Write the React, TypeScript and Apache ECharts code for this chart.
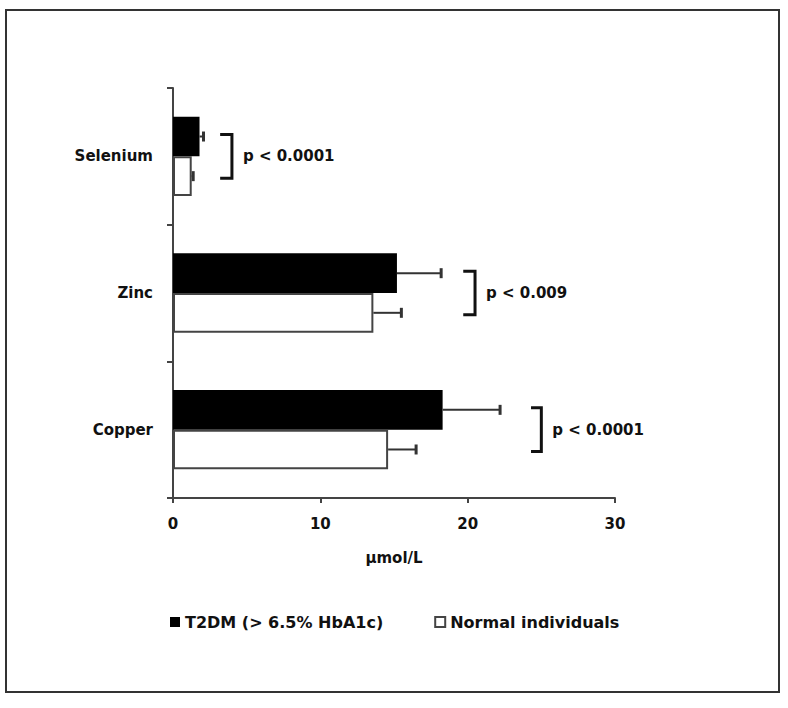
import React, { useEffect, useRef } from "react";
import * as echarts from "echarts";

const categories = ["Copper", "Zinc", "Selenium"];
const t2dmValues = [18.3, 15.2, 1.8];
const t2dmErrors = [3.9, 3.0, 0.27];
const normalValues = [14.6, 13.6, 1.27];
const normalErrors = [1.9, 1.9, 0.1];
const pLabels = ["p < 0.0001", "p < 0.009", "p < 0.0001"];
const bracketStart = [24.3, 19.7, 3.2];
const bracketEnd = [25.0, 20.5, 4.0];
const xTicks = [0, 10, 20, 30];
const seriesNames = ["T2DM (> 6.5% HbA1c)", "Normal individuals"];

const FONT = "DejaVu Sans";
const BAR_FRAC = 0.29;

export default function App() {
  const ref = useRef<HTMLDivElement>(null);
  useEffect(() => {
    document.body.style.margin = "0";
    const chart = echarts.init(ref.current!, null, { renderer: "svg" });

    const errorSeries = (vals: number[], errs: number[], sign: number, color: string) => ({
      type: "custom",
      silent: true,
      z: 5,
      encode: { x: 0, y: 1 },
      data: vals.map((v, i) => [v, i, errs[i]]),
      renderItem: (params: any, api: any) => {
        const v = api.value(0);
        const c = api.value(1);
        const e = api.value(2);
        const s = api.coord([v, c]);
        const t = api.coord([v + e, c]);
        const band = api.size([0, 1])[1];
        const y = s[1] + sign * band * BAR_FRAC * 0.5;
        return {
          type: "group",
          children: [
            { type: "line", shape: { x1: s[0], y1: y, x2: t[0], y2: y }, style: { stroke: color, lineWidth: 2 } },
            { type: "line", shape: { x1: t[0], y1: y - 5, x2: t[0], y2: y + 5 }, style: { stroke: color, lineWidth: 3 } },
          ],
        };
      },
    });

    chart.setOption({
      animation: false,
      backgroundColor: "#fff",
      textStyle: { fontFamily: FONT },
      graphic: [
        {
          type: "rect",
          shape: { x: 6, y: 10, width: 773, height: 682 },
          style: { fill: "none", stroke: "#333", lineWidth: 2 },
          silent: true,
        },
      ],
      grid: { left: 173, right: 173, top: 88, bottom: 210, containLabel: false },
      legend: {
        left: 165,
        top: 609,
        itemGap: 51,
        itemWidth: 10,
        itemHeight: 10,
        icon: "rect",
        data: seriesNames,
        textStyle: { fontFamily: FONT, fontWeight: "bold", fontSize: 16, color: "#111" },
      },
      xAxis: {
        type: "value",
        min: 0,
        max: 30,
        interval: 10,
        axisLine: { show: true, lineStyle: { color: "#444", width: 2 } },
        axisTick: { show: true, length: 5, lineStyle: { color: "#444", width: 2 } },
        splitLine: { show: false },
        axisLabel: {
          margin: 18,
          fontFamily: FONT,
          fontWeight: "bold",
          fontSize: 15,
          color: "#111",
          formatter: (v: number) => (xTicks.includes(v) ? String(v) : ""),
        },
        name: "µmol/L",
        nameLocation: "middle",
        nameGap: 52,
        nameTextStyle: { fontFamily: FONT, fontWeight: "bold", fontSize: 15, color: "#111" },
      },
      yAxis: {
        type: "category",
        data: categories,
        axisLine: { show: true, lineStyle: { color: "#444", width: 2 } },
        axisTick: { show: true, length: 6, lineStyle: { color: "#444", width: 2 } },
        axisLabel: { margin: 20, fontFamily: FONT, fontWeight: "bold", fontSize: 15, color: "#111" },
      },
      series: [
        {
          name: seriesNames[0],
          type: "bar",
          data: t2dmValues,
          barWidth: "29%",
          barGap: "0%",
          itemStyle: { color: "#000" },
        },
        {
          name: seriesNames[1],
          type: "bar",
          data: normalValues,
          barWidth: "29%",
          barGap: "0%",
          itemStyle: { color: "#fff", borderColor: "#444", borderWidth: 2 },
        },
        errorSeries(t2dmValues, t2dmErrors, -1, "#333"),
        errorSeries(normalValues, normalErrors, 1, "#333"),
        {
          type: "custom",
          silent: true,
          encode: { x: 0, y: 1 },
          data: bracketStart.map((x, i) => [x, i, bracketEnd[i]]),
          renderItem: (params: any, api: any) => {
            const c = api.value(1);
            const a = api.coord([api.value(0), c]);
            const b = api.coord([api.value(2), c]);
            const band = api.size([0, 1])[1];
            const off = band * BAR_FRAC * 0.55;
            const y = a[1];
            return {
              type: "group",
              children: [
                {
                  type: "polyline",
                  shape: { points: [[a[0], y - off], [b[0], y - off], [b[0], y + off], [a[0], y + off]] },
                  style: { stroke: "#111", lineWidth: 3, fill: "none" },
                },
                {
                  type: "text",
                  style: {
                    text: pLabels[params.dataIndex],
                    x: b[0] + 11,
                    y: y,
                    verticalAlign: "middle",
                    fill: "#111",
                    font: `bold 15px ${FONT}`,
                  },
                },
              ],
            };
          },
        },
      ],
    });
    return () => chart.dispose();
  }, []);
  return <div ref={ref} style={{ width: 788, height: 708 }} />;
}
